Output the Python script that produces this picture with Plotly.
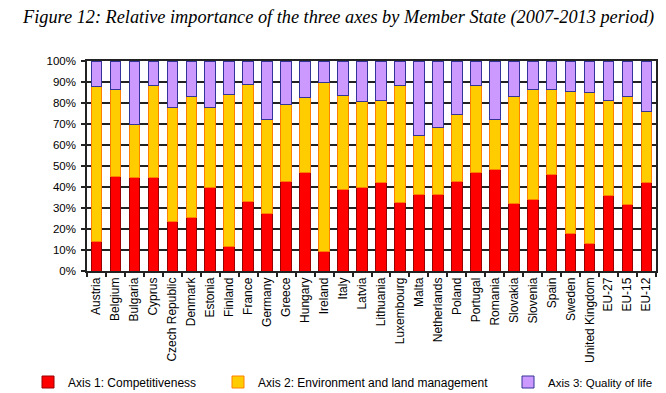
import plotly.graph_objects as go

countries = ["Austria", "Belgium", "Bulgaria", "Cyprus", "Czech Republic", "Denmark", "Estonia",
             "Finland", "France", "Germany", "Greece", "Hungary", "Ireland", "Italy", "Latvia",
             "Lithuania", "Luxembourg", "Malta", "Netherlands", "Poland", "Portugal", "Romania",
             "Slovakia", "Slovenia", "Spain", "Sweden", "United Kingdom", "EU-27", "EU-15", "EU-12"]

axis1 = [14, 45, 44.5, 44.5, 23.5, 25.5, 40, 11.5, 33, 27.5, 42.5, 47, 9.5, 39, 40,
         42, 32.5, 36.5, 36.5, 42.5, 47, 48.5, 32, 34, 46, 18, 13, 36, 31.5, 42]
axis2 = [74, 41.5, 25.5, 44, 54.5, 57.5, 38, 72.5, 56, 44.5, 37, 35.5, 80.5, 44.5, 40.5,
         39, 56, 28, 32, 32, 41.5, 23.5, 51, 52.5, 40.5, 67.5, 72, 45, 51.5, 34]
axis3 = [12, 13.5, 30, 11.5, 22, 17, 22, 16, 11, 28, 20.5, 17.5, 10, 16.5, 19.5,
         19, 11.5, 35.5, 31.5, 25.5, 11.5, 28, 17, 13.5, 13.5, 14.5, 15, 19, 17, 24]

names = ["Axis 1: Competitiveness", "Axis 2: Environment and land management", "Axis 3: Quality of life"]
fills = ["#FF0000", "#FFCC00", "#CC99FF"]
edges = ["#990000", "#FF8000", "#333399"]
legends = ["legend", "legend2", "legend3"]

# page body has an 8px margin: figure is sized/positioned to compensate
FW, FH = 658, 385

fig = go.Figure()
for vals, nm, fc, ec, lg in zip([axis1, axis2, axis3], names, fills, edges, legends):
    fig.add_trace(go.Bar(x=countries, y=vals, name=nm, legend=lg,
                         marker=dict(color=fc, line=dict(color=ec, width=1))))

leg_common = dict(orientation="h", yref="container", y=1 - 374 / FH, yanchor="middle",
                  xref="container", xanchor="left",
                  bgcolor="rgba(0,0,0,0)", font=dict(family="Liberation Sans, Arial", size=12, color="#000"),
                  itemwidth=30, tracegroupgap=0)
fig.update_layout(
    width=FW, height=FH,
    margin=dict(l=79, r=10, t=52.7, b=FH - 262.7, autoexpand=False),
    paper_bgcolor="white", plot_bgcolor="white",
    barmode="stack", bargap=0.44,
    showlegend=True,
    legend=dict(leg_common, x=20 / FW),
    legend2=dict(leg_common, x=210 / FW),
    legend3=dict(leg_common, x=500 / FW,
                 font=dict(family="Liberation Sans, Arial", size=11.5, color="#000")),
    title=dict(text="Figure 12: Relative importance of the three axes by Member State (2007-2013 period)",
               xref="container", x=15 / FW, xanchor="left", yref="container", y=1 - 9 / FH, yanchor="middle",
               font=dict(family="Liberation Serif, Times New Roman", size=18.3, style="italic", color="#000")),
    xaxis=dict(tickangle=-90, tickfont=dict(family="Liberation Sans, Arial", size=12, color="#000"),
               ticks="outside", tickson="boundaries", ticklen=4, tickcolor="#222", tickwidth=1.5,
               showline=True, linecolor="#222", linewidth=1.5, mirror=True, showgrid=False,
               automargin=False),
    yaxis=dict(range=[0, 100], dtick=10, ticksuffix="%",
               tickfont=dict(family="Liberation Sans, Arial", size=11.5, color="#000"),
               ticks="outside", ticklen=4, tickcolor="#222", tickwidth=1.5, ticklabelstandoff=3,
               showline=True, linecolor="#222", linewidth=1.5, mirror=True,
               showgrid=True, gridcolor="#222", gridwidth=1.5, zeroline=False, automargin=False),
)
fig.write_html("out.html")
